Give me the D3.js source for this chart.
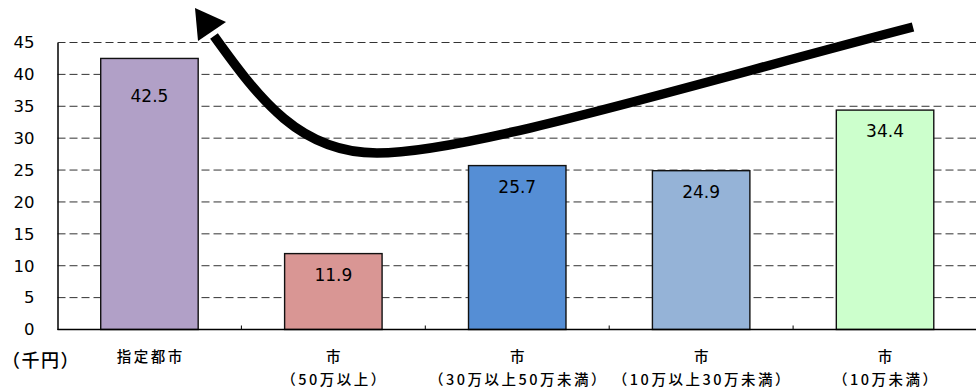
<!DOCTYPE html>
<html><head><meta charset="utf-8">
<script src="https://cdn.jsdelivr.net/npm/d3@7"></script>
<style>
html,body{margin:0;padding:0;background:#fff;}
svg{display:block;}
</style></head>
<body>
<svg id="c" width="976" height="389"></svg>
<script>
const categories = ["指定都市", "市（50万以上）", "市（30万以上50万未満）", "市（10万以上30万未満）", "市（10万未満）"];
const labelLine1 = ["指定都市", "市", "市", "市", "市"];
const labelLine2 = ["", "（50万以上）", "（30万以上50万未満）", "（10万以上30万未満）", "（10万未満）"];
const values = [42.5, 11.9, 25.7, 24.9, 34.4];
const barColors = ["#B1A0C7", "#D99694", "#558ED5", "#95B3D7", "#CCFFCC"];
const yTicks = [0, 5, 10, 15, 20, 25, 30, 35, 40, 45];
const unitLabel = "（千円）";

const svg = d3.select("#c");
const pLeft = 57.5, pRight = 977, pTop = 42.5, pBottom = 329.5;
const x = d3.scaleBand().domain(categories).range([pLeft, pRight]).paddingInner(0.47).paddingOuter(0.235);
const y = d3.scaleLinear().domain([0, 45]).range([pBottom, pTop]);

// gridlines
svg.append("g").selectAll("line").data(yTicks.filter(t => t > 0)).join("line")
  .attr("x1", pLeft).attr("x2", 976).attr("y1", d => y(d)).attr("y2", d => y(d))
  .attr("stroke", "#333").attr("stroke-width", 1).attr("stroke-dasharray", "8,4");

// bars
svg.append("g").selectAll("rect").data(values).join("rect")
  .attr("x", (d, i) => x(categories[i]))
  .attr("y", d => y(d))
  .attr("width", x.bandwidth())
  .attr("height", d => y(0) - y(d))
  .attr("fill", (d, i) => barColors[i])
  .attr("stroke", "#111").attr("stroke-width", 1.4);

// value labels
svg.append("g").selectAll("text").data(values).join("text")
  .attr("x", (d, i) => x(categories[i]) + x.bandwidth() / 2)
  .attr("y", d => y(Math.min(d, 40)) + 21)
  .attr("dy", "0.36em")
  .attr("text-anchor", "middle")
  .attr("font-family", "DejaVu Sans")
  .attr("font-size", 17)
  .attr("fill", "#000")
  .text(d => d.toFixed(1));

// y axis
const yAxis = d3.axisLeft(y).tickValues(yTicks).tickSize(0).tickPadding(23);
const gy = svg.append("g").attr("transform", `translate(${pLeft},0)`).call(yAxis);
gy.select(".domain").attr("stroke", "#000").attr("stroke-width", 1.5);
gy.selectAll("text").attr("font-family", "DejaVu Sans").attr("font-size", 16.5).attr("fill", "#000");

// x axis
svg.append("line").attr("x1", pLeft).attr("x2", 976).attr("y1", pBottom).attr("y2", pBottom)
  .attr("stroke", "#000").attr("stroke-width", 1.5);
const bounds = categories.slice(0, -1).map(c => x(c) + x.bandwidth() + (x.step() - x.bandwidth()) / 2);
svg.append("g").selectAll("line").data(bounds).join("line")
  .attr("x1", d => d).attr("x2", d => d).attr("y1", pBottom).attr("y2", pBottom - 4)
  .attr("stroke", "#000").attr("stroke-width", 1);

// category labels
const lab = svg.append("g").attr("font-family", "Noto Sans CJK JP").attr("font-size", 14.5)
  .attr("font-weight", 500)
  .attr("fill", "#000").attr("text-anchor", "middle").attr("letter-spacing", "2.5px");
lab.selectAll("text.l1").data(labelLine1).join("text").attr("class", "l1")
  .attr("x", (d, i) => x(categories[i]) + x.bandwidth() / 2 + 1.25)
  .attr("y", 357).attr("dy", "0.36em").text(d => d);
lab.selectAll("text.l2").data(labelLine2).join("text").attr("class", "l2")
  .attr("x", (d, i) => x(categories[i]) + x.bandwidth() / 2 + 1.25)
  .attr("y", 380).attr("dy", "0.36em").text(d => d);

svg.append("text").attr("x", 2).attr("y", 361).attr("dy", "0.36em")
  .attr("font-family", "Noto Sans CJK JP").attr("font-size", 18).attr("letter-spacing", "1.5px")
  .attr("font-weight", 500)
  .attr("fill", "#000").text(unitLabel);

// decorative arrow
const arrowPath = "M913,27 C700,82 470,153 377,153 C300,153 260,100 214,36";
svg.append("path").attr("d", arrowPath).attr("fill", "none")
  .attr("stroke", "#000").attr("stroke-width", 9.5);
svg.append("polygon").attr("points", "195,8 198,41 226,22").attr("fill", "#000");
</script>
</body></html>
